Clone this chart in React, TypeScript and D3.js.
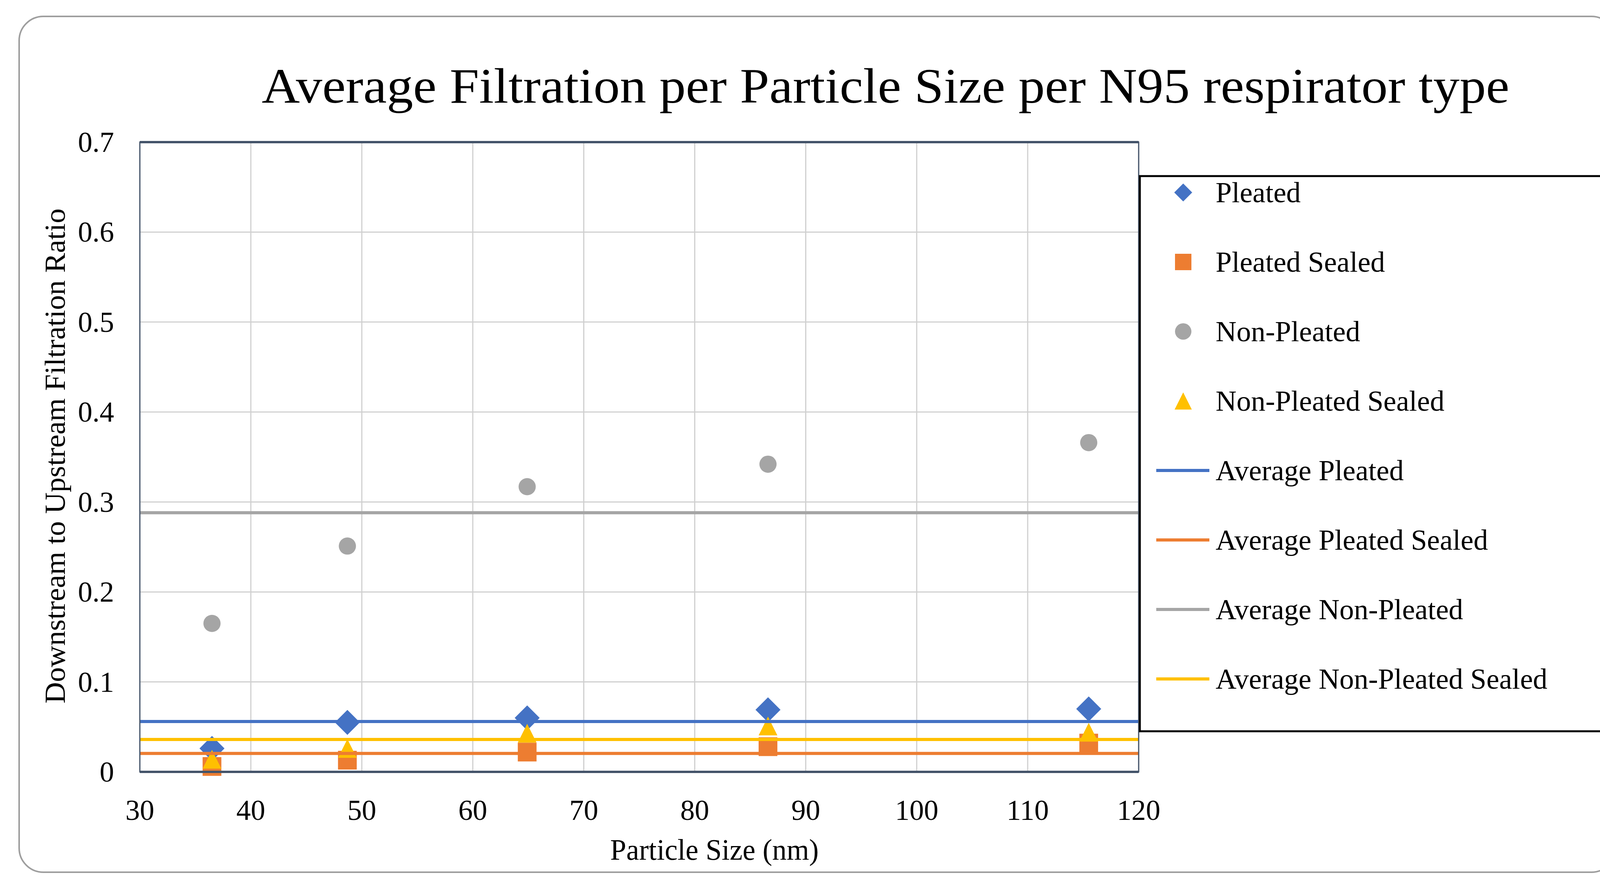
import * as d3 from "d3";

// particle size bins (nm)
const particleSizes = [36.5, 48.7, 64.9, 86.6, 115.5];

// downstream / upstream ratio per respirator type
const pleated = [0.026, 0.055, 0.06, 0.069, 0.07];
const pleatedSealed = [0.006, 0.013, 0.022, 0.028, 0.032];
const nonPleated = [0.165, 0.251, 0.317, 0.342, 0.366];
const nonPleatedSealed = [0.014, 0.026, 0.043, 0.051, 0.044];

// horizontal average levels
const averageNames = [
  "Average Pleated",
  "Average Pleated Sealed",
  "Average Non-Pleated",
  "Average Non-Pleated Sealed",
];
const averageValues = [0.056, 0.0205, 0.288, 0.036];

const xTicks = [30, 40, 50, 60, 70, 80, 90, 100, 110, 120];
const yTicks = [0, 0.1, 0.2, 0.3, 0.4, 0.5, 0.6, 0.7];

const W = 4173;
const H = 2277;
const FONT = "'Palatino Linotype', 'Book Antiqua', Palatino, 'Liberation Serif', serif";

const BLUE = "#4472C4";
const ORANGE = "#ED7D31";
const GRAY = "#A5A5A5";
const YELLOW = "#FFC000";

type Shape = "diamond" | "square" | "circle" | "triangle";

const series: { name: string; values: number[]; color: string; shape: Shape }[] = [
  { name: "Pleated", values: pleated, color: BLUE, shape: "diamond" },
  { name: "Pleated Sealed", values: pleatedSealed, color: ORANGE, shape: "square" },
  { name: "Non-Pleated", values: nonPleated, color: GRAY, shape: "circle" },
  { name: "Non-Pleated Sealed", values: nonPleatedSealed, color: YELLOW, shape: "triangle" },
];
const averageColors = [BLUE, ORANGE, GRAY, YELLOW];

// marker sizes (px) in the plot and in the legend
const plotSize: Record<Shape, number> = { diamond: 64, square: 48, circle: 44, triangle: 48 };
const legendSize: Record<Shape, number> = { diamond: 46, square: 42, circle: 42, triangle: 44 };

function Marker({ shape, x, y, size, color }: { shape: Shape; x: number; y: number; size: number; color: string }) {
  const h = size / 2;
  if (shape === "diamond") {
    return <path d={`M${x},${y - h}L${x + h},${y}L${x},${y + h}L${x - h},${y}Z`} fill={color} />;
  }
  if (shape === "square") {
    return <rect x={x - h} y={y - h} width={size} height={size} fill={color} />;
  }
  if (shape === "circle") {
    return <circle cx={x} cy={y} r={h} fill={color} />;
  }
  return <path d={`M${x},${y - h}L${x + h},${y + h}L${x - h},${y + h}Z`} fill={color} />;
}

export default function App() {
  const left = 358;
  const right = 2915;
  const top = 364;
  const bottom = 1977;

  const x = d3.scaleLinear().domain([30, 120]).range([left, right]);
  const y = d3.scaleLinear().domain([0, 0.7]).range([bottom, top]);

  const legendX = 2918;
  const legendY = 451;
  const legendW = 1218;
  const legendH = 1422;
  const rowY = (i: number) => 493 + i * 178;

  return (
    <div style={{ position: "absolute", left: 0, top: 0 }}>
      <svg width={W} height={H} style={{ display: "block", background: "#fff" }} fontFamily={FONT}>
        <rect x={49} y={42} width={4087} height={2192} rx={62} fill="#fff" stroke="#9e9e9e" strokeWidth={4} />

        <text x={670} y={263} fontSize={128} fill="#000" textLength={3194} lengthAdjust="spacingAndGlyphs">
          Average Filtration per Particle Size per N95 respirator type
        </text>

        {/* grid */}
        {xTicks.map((t) => (
          <line key={`gx${t}`} x1={x(t)} x2={x(t)} y1={top} y2={bottom} stroke="#d0d0d0" strokeWidth={3} />
        ))}
        {yTicks.map((t) => (
          <line key={`gy${t}`} x1={left} x2={right} y1={y(t)} y2={y(t)} stroke="#d0d0d0" strokeWidth={3} />
        ))}

        {/* markers */}
        {series.map((s) =>
          s.values.map((v, i) => (
            <Marker
              key={`${s.name}${i}`}
              shape={s.shape}
              x={x(particleSizes[i])}
              y={y(v)}
              size={plotSize[s.shape]}
              color={s.color}
            />
          ))
        )}

        {/* average lines */}
        {averageValues.map((v, i) => (
          <line
            key={averageNames[i]}
            x1={x(30)}
            x2={x(120)}
            y1={y(v)}
            y2={y(v)}
            stroke={averageColors[i]}
            strokeWidth={8}
          />
        ))}

        {/* plot frame */}
        <rect x={left} y={top} width={right - left} height={bottom - top} fill="none" stroke="#44546A" strokeWidth={3} />
        <line x1={left} x2={right} y1={top} y2={top} stroke="#44546A" strokeWidth={6} />
        <line x1={left} x2={right} y1={bottom} y2={bottom} stroke="#44546A" strokeWidth={6} />

        {/* tick labels */}
        {xTicks.map((t) => (
          <text key={`xt${t}`} x={x(t)} y={2100} fontSize={74} textAnchor="middle" fill="#000">
            {t}
          </text>
        ))}
        {yTicks.map((t) => (
          <text key={`yt${t}`} x={292} y={y(t) + 25} fontSize={74} textAnchor="end" fill="#000">
            {d3.format("~g")(t)}
          </text>
        ))}

        <text x={1829} y={2202} fontSize={76} textAnchor="middle" fill="#000" textLength={534} lengthAdjust="spacingAndGlyphs">
          Particle Size (nm)
        </text>
        <text
          transform={`translate(166,1168) rotate(-90)`}
          fontSize={74}
          textAnchor="middle"
          fill="#000"
          textLength={1268}
          lengthAdjust="spacingAndGlyphs"
        >
          Downstream to Upstream Filtration Ratio
        </text>

        {/* legend */}
        <rect x={legendX} y={legendY} width={legendW} height={legendH} fill="#fff" stroke="#000" strokeWidth={5} />
        {series.map((s, i) => (
          <g key={`lg${s.name}`}>
            <Marker shape={s.shape} x={3029} y={rowY(i)} size={legendSize[s.shape]} color={s.color} />
            <text x={3112} y={rowY(i) + 25} fontSize={74} fill="#000">
              {s.name}
            </text>
          </g>
        ))}
        {averageNames.map((n, i) => (
          <g key={`la${n}`}>
            <line x1={2960} x2={3096} y1={rowY(i + 4)} y2={rowY(i + 4)} stroke={averageColors[i]} strokeWidth={8} />
            <text x={3112} y={rowY(i + 4) + 25} fontSize={74} fill="#000">
              {n}
            </text>
          </g>
        ))}
      </svg>
    </div>
  );
}
